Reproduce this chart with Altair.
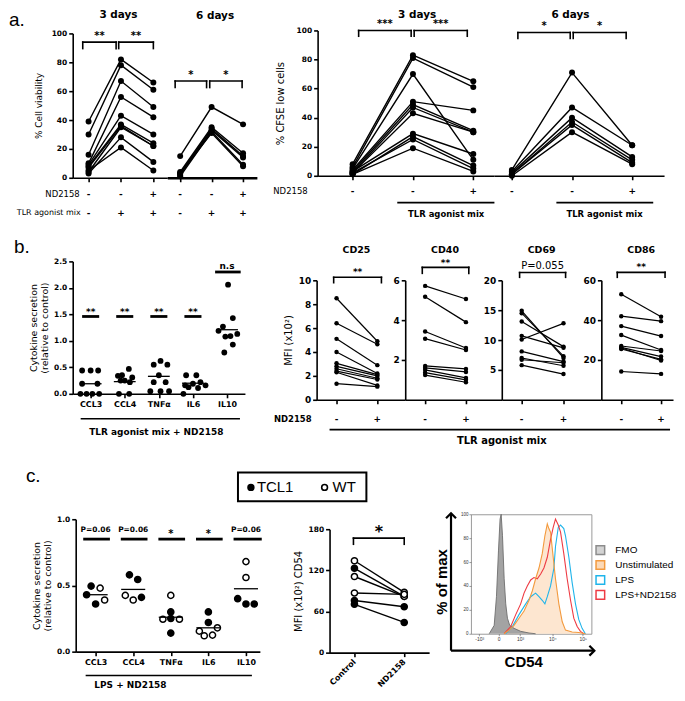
import json
import altair as alt
import pandas as pd

FONT = "Liberation Sans"
FA = "DejaVu Sans"   # wide font, close to the letter-spaced Prism text

# ======================= DATA =======================
# a. % cell viability (ctrl, TLR mix, TLR mix + ND2158)
via3_ctrl = [39, 30, 16, 10, 9, 8, 7, 4, 3, 5]
via3_tlr = [82, 78, 67, 56, 43, 37, 36, 35, 28, 21]
via3_tlr_nd = [66, 61, 49, 42, 30, 24, 22, 22, 11, 5]
via6_ctrl = [15, 4, 3, 2, 1, 3]
via6_tlr = [49, 35, 34, 33, 32, 31]
via6_tlr_nd = [37, 17, 15, 14, 9, 8]
# a. % CFSE low cells
cfse3_ctrl = [8, 6, 5, 4, 3, 2, 2, 3, 1, 2, 1]
cfse3_tlr = [83, 81, 70, 51, 49, 47, 43, 29, 27, 25, 19]
cfse3_tlr_nd = [65, 61, 11, 45, 31, 30, 30, 15, 7, 5, 3]
cfse6_ctrl = [4, 3, 2, 1, 1, 0]
cfse6_tlr = [71, 47, 40, 37, 35, 30]
cfse6_tlr_nd = [21, 21, 13, 11, 9, 8]
cond_a = [1, 2, 3]
nd_signs_a = ["-", "-", "+"]
tlr_signs_a = ["-", "+", "+"]
via3_stars = ["**", "**"]
via6_stars = ["*", "*"]
cfse3_stars = ["***", "***"]
cfse6_stars = ["*", "*"]

# b. cytokine secretion (relative to control)
cyto_names = ["CCL3", "CCL4", "TNFα", "IL6", "IL10"]
cytob_cat = [1] * 9 + [2] * 9 + [3] * 9 + [4] * 9 + [5] * 9
cytob_dx = [-0.25, 0.0, 0.22, -0.25, 0.2, -0.3, -0.12, 0.05, 0.25,
            0.12, -0.2, -0.08, 0.22, -0.12, 0.0, 0.15, -0.17, 0.13,
            0.05, -0.15, 0.25, 0.0, -0.15, 0.2, -0.25, 0.05, 0.3,
            -0.2, 0.1, -0.23, 0.0, 0.22, -0.13, 0.15, 0.37, -0.28,
            0.03, 0.17, -0.12, -0.25, 0.3, -0.05, 0.1, 0.17, -0.08]
cytob_val = [0.44, 0.44, 0.44, 0.19, 0.19, 0.0, 0.0, 0.0, 0.0,
             0.47, 0.34, 0.35, 0.31, 0.25, 0.25, 0.22, 0.0, 0.0,
             0.62, 0.55, 0.55, 0.35, 0.22, 0.22, 0.05, 0.05, 0.05,
             0.35, 0.35, 0.16, 0.19, 0.22, 0.125, 0.11, 0.16, 0.0,
             2.06, 1.43, 1.27, 1.19, 1.13, 1.08, 1.09, 0.93, 0.78]
cytob_mean = [0.19, 0.23, 0.33, 0.20, 1.21]
cytob_sig = ["**", "**", "**", "**", "n.s"]

# b. MFI (x10^2), TLR mix without / with ND2158
cd25_ctrl = [8.5, 6.4, 5.1, 4.0, 3.05, 2.8, 2.6, 2.4, 2.3, 1.35]
cd25_nd = [4.9, 4.65, 2.9, 2.2, 2.1, 2.0, 1.8, 1.7, 1.2, 1.1]
cd40_ctrl = [5.72, 5.17, 3.43, 3.07, 1.7, 1.6, 1.5, 1.36, 1.24]
cd40_nd = [5.06, 3.9, 2.6, 2.5, 1.55, 1.4, 1.1, 1.0, 0.88]
cd69_ctrl = [14.9, 14.5, 13.1, 10.7, 10.1, 8.1, 7.0, 6.7, 5.8]
cd69_nd = [7.0, 7.3, 8.9, 8.7, 12.8, 6.4, 5.7, 6.2, 4.3]
cd86_ctrl = [53, 42, 37, 32.5, 27, 26.3, 25.5, 26, 14.2]
cd86_nd = [41.7, 39.5, 32, 25, 24.5, 21.7, 20.3, 19.7, 13]
cond_b = [1, 2]
nd_signs_b = ["-", "+"]
mfi_names = ["CD25", "CD40", "CD69", "CD86"]
mfi_stars = ["**", "**", "P=0.055", "**"]

# c. cytokine secretion, TCL1 vs WT
cytoc_cat = [1] * 5 + [2] * 5 + [3] * 6 + [4] * 6 + [5] * 5
cytoc_dx = [-0.12, 0.12, -0.24, 0.0, 0.24,
            -0.1, 0.12, -0.21, 0.0, 0.22,
            0.0, 0.0, -0.21, 0.0, 0.23, 0.0,
            0.0, 0.0, -0.24, -0.11, 0.11, 0.24,
            0.0, 0.0, -0.22, 0.0, 0.22]
cytoc_val = [0.495, 0.48, 0.43, 0.36, 0.39,
             0.58, 0.545, 0.425, 0.39, 0.41,
             0.425, 0.30, 0.245, 0.25, 0.245, 0.14,
             0.30, 0.22, 0.155, 0.12, 0.125, 0.18,
             0.68, 0.56, 0.40, 0.36, 0.36]
cytoc_geno = ["TCL1", "WT", "TCL1", "TCL1", "WT",
              "TCL1", "TCL1", "WT", "WT", "TCL1",
              "WT", "TCL1", "WT", "TCL1", "WT", "TCL1",
              "TCL1", "TCL1", "WT", "WT", "WT", "WT",
              "WT", "WT", "TCL1", "TCL1", "TCL1"]
cytoc_mean = [0.43, 0.47, 0.26, 0.18, 0.475]
cytoc_sig = ["P=0.06", "P=0.06", "*", "*", "P=0.06"]

# c. MFI CD54
cd54_ctrl = [134, 123, 111, 87, 76, 70.5]
cd54_nd = [88, 82, 82, 85, 67, 44]
cd54_geno = ["WT", "TCL1", "WT", "WT", "TCL1", "TCL1"]
cd54_groups = ["Control", "ND2158"]
geno_names = ["TCL1", "WT"]

# c. CD54 histogram (channel 0-1000, % of max)
hist_ticks = [69, 229, 408, 675, 928]
hist_tick_labels = ["-10³", "0", "10³", "10⁴", "10⁵"]
fmo_x = [152, 193, 212, 229, 242, 251, 262, 276, 289, 303, 322, 358, 413, 482, 537]
fmo_y = [0, 7, 31, 70, 96, 100, 82, 46, 25, 13, 7, 4.5, 2, 0.6, 0]
unst_x = [276, 317, 358, 399, 441, 482, 510, 537, 565, 592, 614, 634, 647, 661, 680, 702, 730, 758, 785, 840, 895, 950]
unst_y = [0, 3, 7, 13, 19, 28, 36, 46, 55, 67, 82, 92, 88, 85, 67, 46, 25, 10, 3, 1.5, 1, 0]
lps_x = [289, 344, 399, 455, 496, 537, 565, 592, 614, 634, 661, 689, 702, 725, 744, 771, 785, 813, 840, 868, 895, 923, 950]
lps_y = [0, 6, 16, 25, 31, 34, 31, 28, 25, 31, 40, 55, 73, 89, 91, 88, 82, 64, 43, 25, 12, 4.5, 0]
lpsnd_x = [276, 331, 372, 413, 441, 468, 496, 523, 551, 579, 606, 634, 661, 683, 702, 725, 744, 771, 799, 827, 854, 882, 909, 937]
lpsnd_y = [0, 6, 16, 25, 34, 40, 45, 47, 46, 50, 55, 64, 79, 89, 96, 91, 85, 67, 46, 28, 13, 6, 2, 0]
hist_labels = ["FMO", "Unstimulated", "LPS", "LPS+ND2158"]
hist_leg_fill = ["#d3d3d3", "#fbd9b8", "#ffffff", "#ffffff"]
hist_leg_stroke = ["#8c8c8c", "#f39a3e", "#1fb4ea", "#ee3b43"]


# ======================= HELPERS =======================
def long_df(*series, geno=None):
    rows = []
    for ci, vals in enumerate(series, start=1):
        for di, v in enumerate(vals):
            r = {"donor": di, "cond": ci, "value": v}
            if geno is not None:
                r["geno"] = geno[di]
            rows.append(r)
    return pd.DataFrame(rows)


def txt(text, x, y, size=9, weight="bold", align="center", angle=0, font=FA, baseline="middle"):
    kw = dict(align=align, baseline=baseline, fontSize=size, fontWeight=weight,
              font=font, color="black")
    if angle:
        kw["angle"] = angle
    return alt.Chart(pd.DataFrame({"t": [text]})).mark_text(**kw).encode(
        x=alt.value(x), y=alt.value(y), text="t:N")


def prule(x, x2, y, w=1.6):
    return alt.Chart(pd.DataFrame({"k": [0]})).mark_rule(color="black", strokeWidth=w).encode(
        x=alt.value(x), x2=alt.value(x2), y=alt.value(y))


def spacer(w=1, h=1):
    return alt.Chart(pd.DataFrame({"k": [0]})).mark_point(opacity=0).encode(
        x=alt.X("k:Q", axis=None), y=alt.Y("k:Q", axis=None)).properties(width=w, height=h)


def make_enc(xdom, ticks, ydom, yvals, ytitle, tpad, ylab_size=7.5, xaxis=None, tsize=9.5):
    def X(f):
        ax = xaxis if xaxis is not None else alt.Axis(values=ticks, labels=False, title=None, grid=False)
        return alt.X(f"{f}:Q", scale=alt.Scale(domain=xdom, nice=False, zero=False), axis=ax)

    def Y(f):
        if yvals is None:
            ax = None
        else:
            ax = alt.Axis(values=yvals, title=ytitle, grid=False, titlePadding=tpad,
                          labelFontSize=ylab_size, titleFontSize=tsize)
        return alt.Y(f"{f}:Q", scale=alt.Scale(domain=ydom, nice=False, zero=False), axis=ax)
    return X, Y


def bracket_layers(X, Y, x1, x2, top, bot, ylab, labs, fs=10, weight="bold"):
    bdf = pd.DataFrame({"xa": x1, "xb": x2, "top": top, "bot": bot, "ylab": ylab, "lab": labs})
    c = alt.Chart(bdf)
    rk = dict(color="black", strokeWidth=1.6, strokeCap="square")
    return [
        c.mark_rule(**rk).encode(x=X("xa"), x2=alt.X2("xb"), y=Y("top")),
        c.mark_rule(**rk).encode(x=X("xa"), y=Y("top"), y2=alt.Y2("bot")),
        c.mark_rule(**rk).encode(x=X("xb"), y=Y("top"), y2=alt.Y2("bot")),
        c.transform_calculate(xm="(datum.xa + datum.xb) / 2").mark_text(
            fontSize=fs, fontWeight=weight, font=FA, baseline="middle", color="black").encode(
            x=X("xm"), y=Y("ylab"), text="lab:N"),
    ]


def pair_layers(X, Y, df, size, lw, geno=False):
    base = alt.Chart(df)
    layers = [base.mark_line(color="black", strokeWidth=lw).encode(
        x=X("cond"), y=Y("value"), detail="donor:N")]
    if geno:
        layers.append(base.mark_point(shape="circle", filled=True, size=size, stroke="black",
                                      strokeWidth=1.5, opacity=1).encode(
            x=X("cond"), y=Y("value"),
            fill=alt.Fill("geno:N", scale=alt.Scale(domain=geno_names, range=["black", "white"]),
                          legend=None)))
    else:
        layers.append(base.mark_circle(color="black", size=size, opacity=1).encode(
            x=X("cond"), y=Y("value")))
    return layers


def sign_layer(X, conds, signs, y, size=9):
    d = pd.DataFrame({"cond": conds, "s": signs})
    return alt.Chart(d).mark_text(fontSize=size, fontWeight="bold", font=FA, baseline="middle",
                                  color="black").encode(x=X("cond"), y=alt.value(y), text="s:N")


def span_layer(X, xa, xb, y, w=1.6):
    d = pd.DataFrame({"xa": [xa], "xb": [xb]})
    return alt.Chart(d).mark_rule(color="black", strokeWidth=w).encode(
        x=X("xa"), x2=alt.X2("xb"), y=alt.value(y))


def data_txt(X, xv, y, text, size=8.5, weight="bold"):
    d = pd.DataFrame({"xv": [xv], "t": [text]})
    return alt.Chart(d).mark_text(fontSize=size, fontWeight=weight, font=FA, baseline="middle",
                                  color="black").encode(x=X("xv"), y=alt.value(y), text="t:N")


def vshift(ch, dy):
    return alt.vconcat(spacer(1, dy), ch, spacing=0, bounds="flush")


# ======================= ROW A =======================
HA = 145
X, Y = make_enc([0.51, 3.43], cond_a, [0, 100], [0, 20, 40, 60, 80, 100], "% Cell viability", 8, tsize=9)
via3 = alt.layer(
    *pair_layers(X, Y, long_df(via3_ctrl, via3_tlr, via3_tlr_nd), 36, 1.4),
    *bracket_layers(X, Y, [0.82, 1.93], [1.85, 3.0], [94, 94], [89.5, 89.5], [98.5, 98.5], via3_stars),
    sign_layer(X, cond_a, nd_signs_a, HA + 16),
    sign_layer(X, cond_a, tlr_signs_a, HA + 35),
    txt("ND2158", 7, HA + 16, 8.5, "normal", "right"),
    txt("TLR agonist mix", 8, HA + 35, 8, "normal", "right"),
    txt("3 days", 46, -18, 10.5),
    txt("a.", -64, -22, 19, "normal", "left", font=FONT, baseline="top"),
).properties(width=95, height=HA)

X, Y = make_enc([0.59, 3.44], cond_a, [0, 100], None, None, 0,
                xaxis=alt.Axis(values=cond_a, labels=False, title=None, grid=False, domainWidth=2.4))
via6 = alt.layer(
    *pair_layers(X, Y, long_df(via6_ctrl, via6_tlr, via6_tlr_nd), 36, 1.4),
    *bracket_layers(X, Y, [0.84, 1.94], [1.84, 2.97], [67, 67], [62.5, 62.5], [71, 71], via6_stars),
    sign_layer(X, cond_a, nd_signs_a, HA + 16),
    sign_layer(X, cond_a, tlr_signs_a, HA + 35),
    txt("6 days", 48, -17.5, 10.5),
).properties(width=90, height=HA)

HC = 146
X, Y = make_enc([0.42, 3.34], cond_a, [0, 100], [0, 20, 40, 60, 80, 100], "% CFSE low cells", 11, tsize=10)
cfse3 = alt.layer(
    *pair_layers(X, Y, long_df(cfse3_ctrl, cfse3_tlr, cfse3_tlr_nd), 36, 1.4),
    *bracket_layers(X, Y, [1.1, 2.02], [1.97, 2.9], [100, 100], [96, 96], [104.5, 104.5], cfse3_stars),
    sign_layer(X, cond_a, nd_signs_a, HC + 15),
    txt("ND2158", -10, HC + 15, 8.5, "normal", "right"),
    span_layer(X, 1.74, 3.35, HC + 27),
    data_txt(X, 2.55, HC + 38, "TLR agonist mix"),
    txt("3 days", 100, -15, 10.5),
).properties(width=177, height=HC)

X, Y = make_enc([0.7, 3.53], cond_a, [0, 100], None, None, 0)
cfse6 = alt.layer(
    *pair_layers(X, Y, long_df(cfse6_ctrl, cfse6_tlr, cfse6_tlr_nd), 36, 1.4),
    *bracket_layers(X, Y, [1.1, 2.02], [1.97, 2.9], [98.6, 98.6], [94.5, 94.5], [103, 103], cfse6_stars),
    sign_layer(X, cond_a, nd_signs_a, HC + 15),
    span_layer(X, 1.74, 3.35, HC + 27),
    data_txt(X, 2.54, HC + 38, "TLR agonist mix"),
    txt("6 days", 77, -15, 10.5),
).properties(width=171, height=HC)

via_group = vshift(alt.hconcat(via3, via6, spacing=0, bounds="flush"), 3)
cfse_group = alt.hconcat(cfse3, cfse6, spacing=0, bounds="flush")
# nested concats have no own size under flush bounds: spacing = offset between origins
rowA = alt.hconcat(via_group, cfse_group, spacing=246, bounds="flush")


# ======================= CYTOKINE PANELS =======================
def cyto_panel(cat, dx, val, means, sig, sig_y, lab_y, sl, sr, width, height, xdom, ydom, yvals,
               ytitle, geno=None, size=32, extras=(), sig_fs=None):
    lab_expr = json.dumps(cyto_names, ensure_ascii=False) + "[datum.value - 1]"
    xaxis = alt.Axis(values=[1, 2, 3, 4, 5], labelExpr=lab_expr, title=None, grid=False,
                     labelFontSize=8, labelPadding=3)
    X, Y = make_enc(xdom, [1, 2, 3, 4, 5], ydom, yvals, ytitle, 4, xaxis=xaxis, tsize=9.5)
    df = pd.DataFrame({"cat": cat, "dx": dx, "value": val})
    if geno is not None:
        df["geno"] = geno
    pts = alt.Chart(df).transform_calculate(xp="datum.cat + datum.dx")
    if geno is not None:
        pl = pts.mark_point(shape="circle", filled=True, size=size, stroke="black", strokeWidth=1.5,
                            opacity=1).encode(
            x=X("xp"), y=Y("value"),
            fill=alt.Fill("geno:N", scale=alt.Scale(domain=geno_names, range=["black", "white"]),
                          legend=None))
    else:
        pl = pts.mark_circle(color="black", size=size, opacity=1).encode(x=X("xp"), y=Y("value"))
    mdf = pd.DataFrame({"cat": [1, 2, 3, 4, 5], "m": means, "lab": sig, "sy": sig_y, "ly": lab_y,
                        "sl": sl, "sr": sr,
                        "fs": sig_fs if sig_fs is not None else [9] * 5})
    mc = alt.Chart(mdf)
    mean_l = mc.transform_calculate(a="datum.cat - 0.32", b="datum.cat + 0.32").mark_rule(
        color="black", strokeWidth=1.3).encode(x=X("a"), x2=alt.X2("b"), y=Y("m"))
    sig_l = mc.transform_calculate(a="datum.cat + datum.sl", b="datum.cat + datum.sr").mark_rule(
        color="black", strokeWidth=2.8).encode(x=X("a"), x2=alt.X2("b"), y=Y("sy"))
    sig_t = mc.mark_text(fontWeight="bold", font=FA, baseline="middle", color="black").encode(
        x=X("cat"), y=Y("ly"), text="lab:N", size=alt.Size("fs:Q", scale=None, legend=None))
    return alt.layer(pl, mean_l, sig_l, sig_t, *extras).properties(width=width, height=height)


cytob = cyto_panel(
    cytob_cat, cytob_dx, cytob_val, cytob_mean, cytob_sig,
    [1.46] * 4 + [2.3], [1.54] * 4 + [2.42], [-0.25] * 4 + [-0.35], [0.25] * 4 + [0.4],
    173, 133, [0.474, 5.525], [0, 2.5], [0, 0.5, 1.0, 1.5, 2.0, 2.5],
    ["Cytokine secretion", "(relative to control)"], size=34,
    extras=[prule(8, 168, 158), txt("TLR agonist mix + ND2158", 84, 171, 9),
            txt("b.", -59, -14, 19, "normal", "left", font=FONT)])

# ======================= MFI PANELS (ROW B) =======================
mfi_specs = [
    (cd25_ctrl, cd25_nd, 89, [0.512, 2.683], [0, 10], [0, 2, 4, 6, 8, 10], (0.93, 2.1, 10.25, 9.8, 10.7)),
    (cd40_ctrl, cd40_nd, 97, [0.512, 2.878], [0, 6], [2, 4, 6], (0.93, 2.07, 6.65, 6.35, 6.85)),
    (cd69_ctrl, cd69_nd, 100, [0.524, 2.905], [0, 20], [5, 10, 15, 20], (0.95, 2.05, 21.3, 20.5, 22.4)),
    (cd86_ctrl, cd86_nd, 72, [0.5, 2.3], [0, 60], [20, 40, 60], (0.9, 2.1, 64, 61.5, 66.5)),
]
HB = 120
mfi_charts = []
for i, (c1, c2, w, xdom, ydom, yv, br) in enumerate(mfi_specs):
    X, Y = make_enc(xdom, cond_b, ydom, yv, "MFI (x10²)" if i == 0 else None, 5, ylab_size=9, tsize=10)
    fs = 10 if mfi_stars[i].startswith("P") else 9
    wt = "normal" if mfi_stars[i].startswith("P") else "bold"
    layers = pair_layers(X, Y, long_df(c1, c2), 20, 1.2)
    layers += bracket_layers(X, Y, [br[0]], [br[1]], [br[2]], [br[3]], [br[4]], [mfi_stars[i]], fs, wt)
    layers.append(sign_layer(X, cond_b, nd_signs_b, HB + 19))
    layers.append(txt(mfi_names[i], 40, -30, 9.5))
    if i == 0:
        layers += [txt("ND2158", -5, HB + 19, 8.5, "bold", "right"),
                   prule(13, 355, HB + 30),
                   txt("TLR agonist mix", 186, HB + 41, 10)]
    mfi_charts.append(alt.layer(*layers).properties(width=w, height=HB))

mfi_group = vshift(alt.hconcat(*mfi_charts, spacing=0, bounds="flush"), 19)
rowB = alt.hconcat(cytob, mfi_group, spacing=72, bounds="flush")

# ======================= ROW C =======================
cytoc = cyto_panel(
    cytoc_cat, cytoc_dx, cytoc_val, cytoc_mean, cytoc_sig,
    [0.85] * 5, [0.915, 0.915, 0.885, 0.885, 0.915], [-0.33] * 5, [0.38] * 4 + [0.42],
    185, 133, [0.47, 5.37], [0, 1.0], [0, 0.5, 1.0],
    ["Cytokine secretion", "(relative to control)"], geno=cytoc_geno, size=38,
    sig_fs=[7.5, 7.5, 10, 10, 7.5],
    extras=[prule(10, 177, 157), txt("LPS + ND2158", 55, 167, 9),
            txt("c.", -50, -43, 19, "normal", "left", font=FONT),
            alt.Chart(pd.DataFrame({"k": [0]})).mark_rect(fill="white", fillOpacity=0, stroke="black",
                                                         strokeWidth=2).encode(
                x=alt.value(163), x2=alt.value(292), y=alt.value(-47), y2=alt.value(-18)),
            alt.Chart(pd.DataFrame({"g": geno_names, "px": [176, 250]})).mark_point(
                shape="circle", filled=True, size=34, stroke="black", strokeWidth=1.6, opacity=1).encode(
                x=alt.X("px:Q", scale=None), y=alt.value(-32),
                fill=alt.Fill("g:N", scale=alt.Scale(domain=geno_names, range=["black", "white"]),
                              legend=None)),
            txt("TCL1", 182, -32, 15, "normal", "left", font=FONT),
            txt("WT", 258, -32, 15, "normal", "left", font=FONT)])

HD = 124
cd54_expr = json.dumps(cd54_groups) + "[datum.value - 1]"
X, Y = make_enc([0.5, 2.5], cond_b, [0, 180], [0, 60, 120, 180], "MFI (x10²) CD54", 5, tsize=10,
                xaxis=alt.Axis(values=cond_b, labelExpr=cd54_expr, title=None, grid=False,
                               labelAngle=-45, labelAlign="right", labelBaseline="middle",
                               labelFontSize=8, labelPadding=4))
cd54 = alt.layer(
    *pair_layers(X, Y, long_df(cd54_ctrl, cd54_nd, geno=cd54_geno), 38, 1.4, geno=True),
    *bracket_layers(X, Y, [0.98], [2.0], [167], [158], [176], ["*"], 16, "bold"),
).properties(width=100, height=HD)

# histogram
HH = 120
hx_expr = json.dumps(hist_tick_labels, ensure_ascii=False) + "[indexof(" + json.dumps(hist_ticks) + ", datum.value)]"
HX = lambda f: alt.X(f"{f}:Q", scale=alt.Scale(domain=[0, 1000], nice=False, zero=False),
                     axis=alt.Axis(values=hist_ticks, labelExpr=hx_expr, title=None, domain=False,
                                   tickSize=2, tickWidth=0.6, tickColor="#555", labelFontSize=5,
                                   labelFont=FONT, labelFontWeight="normal", labelColor="#333",
                                   labelPadding=1, grid=False))
HY = lambda f: alt.Y(f"{f}:Q", scale=alt.Scale(domain=[0, 100], nice=False, zero=False),
                     axis=alt.Axis(values=[0, 20, 40, 60, 80, 100], title=None, domain=False,
                                   tickSize=2, tickWidth=0.6, tickColor="#555", labelFontSize=4.5,
                                   labelFont=FONT, labelFontWeight="normal", labelColor="#333",
                                   labelPadding=1, grid=False))
d_fmo = pd.DataFrame({"ch": fmo_x, "pct": fmo_y})
d_un = pd.DataFrame({"ch": unst_x, "pct": unst_y})
d_lps = pd.DataFrame({"ch": lps_x, "pct": lps_y})
d_lnd = pd.DataFrame({"ch": lpsnd_x, "pct": lpsnd_y})
up_chev = "M-1,0.5L0,-0.5L1,0.5"
rt_chev = "M-0.5,-1L0.5,0L-0.5,1"
one = pd.DataFrame({"k": [0]})
hist = alt.layer(
    alt.Chart(d_un).mark_area(color="#fde3cb", opacity=0.9).encode(x=HX("ch"), y=HY("pct")),
    alt.Chart(d_fmo).mark_area(color="#a3a3a3", opacity=1).encode(x=HX("ch"), y=HY("pct")),
    alt.Chart(d_fmo).mark_line(color="#6e6e6e", strokeWidth=0.9).encode(x=HX("ch"), y=HY("pct")),
    alt.Chart(d_lps).mark_line(color="#1fb4ea", strokeWidth=1.1).encode(x=HX("ch"), y=HY("pct")),
    alt.Chart(d_lnd).mark_line(color="#ee3b43", strokeWidth=1.1).encode(x=HX("ch"), y=HY("pct")),
    alt.Chart(d_un).mark_line(color="#f39a3e", strokeWidth=1.1).encode(x=HX("ch"), y=HY("pct")),
    alt.Chart(one).mark_rule(color="black", strokeWidth=2.2).encode(
        x=alt.value(-20), y=alt.value(137), y2=alt.value(-1)),
    alt.Chart(one).mark_rule(color="black", strokeWidth=2.2).encode(
        x=alt.value(-20), x2=alt.value(123), y=alt.value(137)),
    alt.Chart(one).mark_point(shape=up_chev, size=100, filled=False, stroke="black", strokeWidth=2.2,
                              opacity=1).encode(x=alt.value(-20), y=alt.value(1.5)),
    alt.Chart(one).mark_point(shape=rt_chev, size=100, filled=False, stroke="black", strokeWidth=2.2,
                              opacity=1).encode(x=alt.value(121.5), y=alt.value(137)),
    txt("% of max", -29, 68, 15, "bold", "center", 270, font=FONT),
    txt("CD54", 53, 148, 15, "bold", font=FONT),
).properties(width=121, height=HH, view=alt.ViewBackground(stroke="#9a9a9a", strokeWidth=1))

leg_df = pd.DataFrame({"label": hist_labels, "fill": hist_leg_fill, "stroke": hist_leg_stroke})
LY = alt.Y("label:N", scale=alt.Scale(domain=hist_labels, range=[36, 81], padding=0), axis=None)
hist_leg = alt.layer(
    alt.Chart(leg_df).mark_point(shape="square", size=75, filled=True, strokeWidth=1.5, opacity=1).encode(
        x=alt.value(0), y=LY, fill=alt.Fill("fill:N", scale=None, legend=None),
        stroke=alt.Stroke("stroke:N", scale=None, legend=None)),
    alt.Chart(leg_df).mark_text(align="left", baseline="middle", fontSize=10, font=FONT,
                                color="black").encode(x=alt.value(15), y=LY, text="label:N"),
).properties(width=60, height=HH)

rowC_left = alt.hconcat(spacer(3, 1), vshift(cytoc, 5), spacing=0, bounds="flush")
rowC_right = alt.hconcat(vshift(cd54, 15),
                         alt.hconcat(hist, hist_leg, spacing=9, bounds="flush"),
                         spacing=142, bounds="flush")
rowC = alt.hconcat(rowC_left, rowC_right, spacing=258, bounds="flush")

chart = alt.vconcat(
    rowA,
    alt.vconcat(rowB, rowC, spacing=254, bounds="flush"),
    spacing=232, bounds="flush",
).properties(
    padding={"left": 0, "top": 0, "right": 0, "bottom": 0}
).configure(font=FA).configure_view(stroke="transparent").configure_axis(
    domainColor="black", domainWidth=1.6, tickColor="black", tickWidth=1.6, tickSize=4,
    labelColor="black", labelFont=FA, labelFontSize=7.5, labelFontWeight="bold",
    titleFont=FA, titleFontSize=9.5, titleFontWeight="normal", titleColor="black",
    labelPadding=2, grid=False)

chart.save("out.html", embed_options={"renderer": "svg", "actions": False})
